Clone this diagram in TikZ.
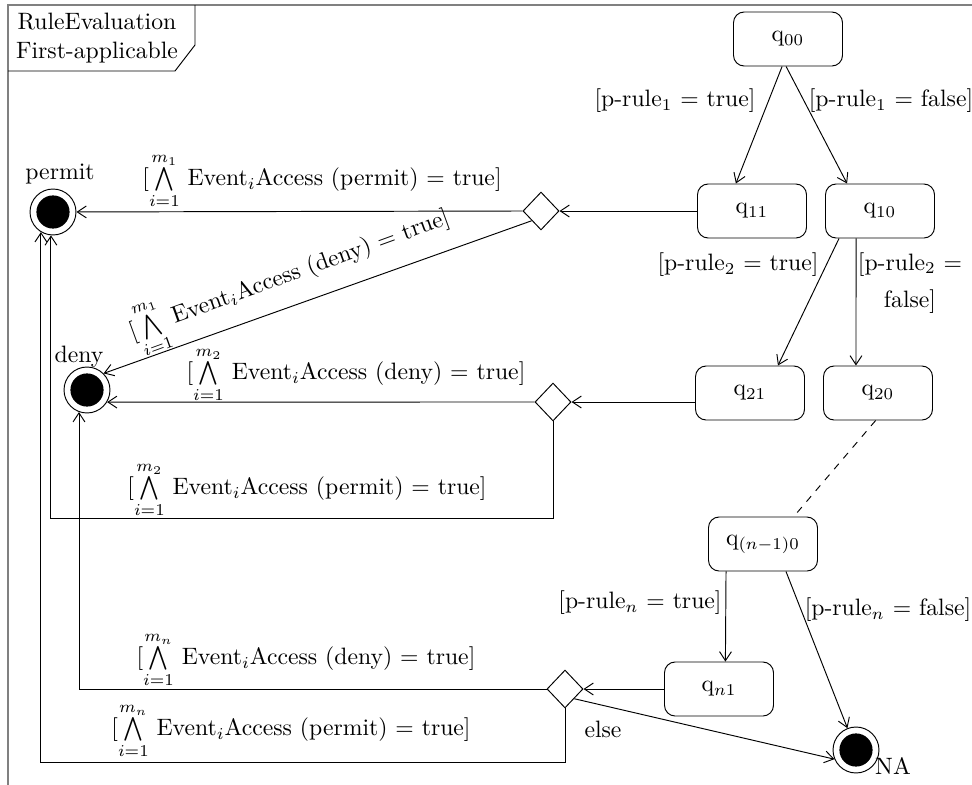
\documentclass[tikz,border=0pt]{standalone}
\usetikzlibrary{arrows.meta,shapes.geometric}
\newcommand\myand[1]{$\bigwedge\limits_{i=1}^{#1}$}
\begin{document}
\begin{tikzpicture}[x=0.422pt,y=-0.422pt,
  state/.style={draw, rounded corners=4.5pt, minimum width=46pt, minimum height=22.8pt, inner sep=0},
  choice/.style={draw, diamond, minimum width=15.2pt, minimum height=16pt, inner sep=0},
  final/.style={draw, circle, minimum size=19.4pt, inner sep=0, path picture={\fill (path picture bounding box.center) circle (7pt);}},
  arr/.style={-{Straight Barb[length=3.8pt,width=5pt]}},
  lbl/.style={inner sep=0},
  frame/.style={draw=gray, line width=0.9pt}]
\useasboundingbox (0,0) rectangle (972,785);
% frame
\draw[frame] (8,785) -- (8,5) -- (972,5);
\draw (8,71) -- (175,71) -- (195,45) -- (195,5);
\node[lbl, align=center] (title) at (97,38) {RuleEvaluation\\First-applicable};
% states
\node[state] (q00) at (788,39) {q$_{00}$};
\node[state] (q11) at (752,211) {q$_{11}$};
\node[state] (q10) at (880,211) {q$_{10}$};
\node[state] (q21) at (750,393) {q$_{21}$};
\node[state] (q20) at (878,393) {q$_{20}$};
\node[state] (qn0) at (763,544) {q$_{(n-1)0}$};
\node[state] (qn1) at (719,689) {q$_{n1}$};
% decisions
\node[choice] (d1) at (541,211) {};
\node[choice] (d2) at (553,402) {};
\node[choice] (dn) at (565,689) {};
% finals
\node[final] (permit) at (53,212) {};
\node[final] (deny) at (87,390) {};
\node[final] (NA) at (856,750) {};
\node[lbl] (tp) at (60,174) {permit};
\node[lbl] (td) at (79,357) {deny};
\node[lbl] (tn) at (893,766) {NA};
\coordinate (yA) at (0,518);
\coordinate (yB) at (0,762);
% edges
\draw[arr] ([xshift=-2.5pt]q00.south) -- ([xshift=-6.8pt]q11.north);
\draw[arr] ([xshift=-0.8pt]q00.south) -- ([xshift=-13.9pt]q10.north);
\draw[arr] ([xshift=-17.3pt]q10.south) -- ([xshift=11.8pt]q21.north);
\draw[arr] ([xshift=-10.1pt]q10.south) -- ([xshift=-9.3pt]q20.north);
\draw[dashed] ([xshift=-1pt]q20.south) -- ([xshift=13pt]qn0.north);
\draw[arr] ([xshift=-15.6pt]qn0.south) -- ([xshift=2.7pt]qn1.north);
\draw[arr] ([xshift=9.7pt]qn0.south) -- (NA);
\draw[arr] (q11.west) -- (d1.east);
\draw[arr] (d1.west) -- (permit);
\draw[arr] (d1.south west) -- (deny.north east);
\draw[arr] (q21.west |- d2) -- (d2.east);
\draw[arr] (d2.west) -- (deny.-31);
\draw[arr] (d2.south) -- (d2.south |- yA) -- (permit.-95 |- yA) -- (permit.-95);
\draw[arr] (qn1.west) -- (dn.east);
\draw[arr] (dn.west) -- (deny.-110 |- dn.west) -- (deny.-110);
\draw[arr] (dn.south) -- (dn.south |- yB) -- (permit.-121 |- yB) -- (permit.-121);
\draw[arr] (dn.south east) -- (NA.-157);
% guard labels
\node[lbl] (g1) at (675,101) {[p-rule$_1$ $=$ true]};
\node[lbl] (g2) at (891,101) {[p-rule$_1$ $=$ false]};
\node[lbl] (g3) at (738,265) {[p-rule$_2$ $=$ true]};
\node[lbl, align=center] (g4) at (910,283) {[p-rule$_2$ $=$\\[3.6pt]false]};
\node[lbl] (g5) at (640,603) {[p-rule$_n$ $=$ true]};
\node[lbl] (g6) at (888,610) {[p-rule$_n$ $=$ false]};
\node[lbl] (g7) at (603,729) {else};
\node[lbl] (w1) at (322,181) {[\myand{m_1} Event$_i$Access (permit) $=$ true]};
\node[lbl, rotate=20] (w2) at (290,277) {[\myand{m_1} Event$_i$Access (deny) $=$ true]};
\node[lbl] (w3) at (356,375) {[\myand{m_2} Event$_i$Access (deny) $=$ true]};
\node[lbl] (w4) at (307,490) {[\myand{m_2} Event$_i$Access (permit) $=$ true]};
\node[lbl] (w5) at (306,660) {[\myand{m_n} Event$_i$Access (deny) $=$ true]};
\node[lbl] (w6) at (291,731) {[\myand{m_n} Event$_i$Access (permit) $=$ true]};
\end{tikzpicture}
\end{document}
